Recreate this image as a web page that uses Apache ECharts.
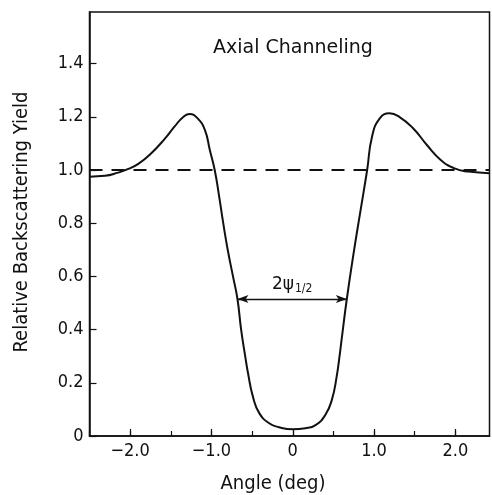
<!DOCTYPE html>
<html>
<head>
<meta charset="utf-8">
<script src="https://cdn.jsdelivr.net/npm/echarts@6/dist/echarts.min.js"></script>
<style>
  html, body { margin: 0; padding: 0; background: #fff; }
  #chart { width: 492px; height: 495px; }
</style>
</head>
<body>
<div id="chart"></div>
<script>
// Backscattering yield vs. tilt angle across an axial channel
const angle = [-2.5, -2.31, -2.15, -2.03, -1.9, -1.74, -1.57, -1.45, -1.35, -1.27, -1.17, -1.08, -1.02, -0.96, -0.905, -0.855, -0.80, -0.735, -0.68, -0.635, -0.585, -0.55, -0.49, -0.41, -0.29, -0.17, 0, 0.155, 0.28, 0.40, 0.48, 0.54, 0.58, 0.60, 0.665, 0.755, 0.835, 0.915, 0.975, 1.07, 1.19, 1.31, 1.48, 1.65, 1.82, 1.99, 2.16, 2.42];
const yieldValues = [0.975, 0.978, 0.99, 1.003, 1.023, 1.063, 1.119, 1.165, 1.198, 1.211, 1.194, 1.15, 1.075, 1.0, 0.9, 0.8, 0.7, 0.6, 0.515, 0.4, 0.3, 0.236, 0.148, 0.085, 0.048, 0.033, 0.025, 0.029, 0.041, 0.079, 0.135, 0.223, 0.311, 0.36, 0.515, 0.70, 0.85, 1.0, 1.125, 1.194, 1.213, 1.2, 1.157, 1.094, 1.038, 1.006, 0.994, 0.988];

// random (non-channeled) reference level
const randomLevel = 1.0;

// full width at half minimum: arrow between the two walls of the dip
const halfWidthLevel = 0.515;
const halfWidthFrom = -0.68;
const halfWidthTo = 0.665;

const xMajorTicks = [-2, -1, 0, 1, 2];
const xMinorTicks = [-2.5, -2, -1.5, -1, -0.5, 0, 0.5, 1, 1.5, 2];
const yTicks = [0, 0.2, 0.4, 0.6, 0.8, 1.0, 1.2, 1.4];

const xRange = [-2.5, 2.42];
const yRange = [0, 1.594];

const ink = '#111';
const condensed = '"DejaVu Sans Condensed", "DejaVu Sans", sans-serif';

const fmtX = v => v === 0 ? '0' : (v < 0 ? '\u2212' : '') + Math.abs(v).toFixed(1);
const fmtY = v => v === 0 ? '0' : v.toFixed(1);

const chart = echarts.init(document.getElementById('chart'), null, { renderer: 'canvas' });

chart.setOption({
  animation: false,
  backgroundColor: '#fff',
  grid: {
    left: 89.5, right: 2.5, top: 12, bottom: 59,
    show: true, borderColor: ink, borderWidth: 1.5, backgroundColor: 'transparent'
  },
  xAxis: [
    {
      type: 'value', min: xRange[0], max: xRange[1], interval: 0.5,
      axisLine: { show: true, onZero: false, lineStyle: { color: ink, width: 1.5 } },
      axisTick: { show: true, inside: true, length: 5, customValues: xMinorTicks, lineStyle: { color: ink, width: 1.2 } },
      axisLabel: {
        customValues: xMajorTicks, formatter: fmtX, margin: 6,
        color: ink, fontFamily: condensed, fontSize: 18
      },
      splitLine: { show: false }
    },
    {
      type: 'value', min: xRange[0], max: xRange[1], interval: 0.5, position: 'bottom',
      axisLine: { show: false, onZero: false },
      axisTick: { show: true, inside: true, length: 7, customValues: xMajorTicks, lineStyle: { color: ink, width: 1.2 } },
      axisLabel: { show: false },
      splitLine: { show: false }
    }
  ],
  yAxis: {
    type: 'value', min: yRange[0], max: yRange[1], interval: 0.2, position: 'left',
    axisLine: { show: true, onZero: false, lineStyle: { color: ink, width: 1.5 } },
    axisTick: { show: true, inside: true, length: 7, customValues: yTicks, lineStyle: { color: ink, width: 1.2 } },
    axisLabel: {
      customValues: yTicks, formatter: fmtY, margin: 6,
      color: ink, fontFamily: condensed, fontSize: 18
    },
    splitLine: { show: false }
  },
  graphic: [
    {
      type: 'text', x: 293, y: 48,
      style: { text: 'Axial Channeling', fill: ink, font: '19px "DejaVu Sans", sans-serif', textAlign: 'center', textVerticalAlign: 'middle' }
    },
    {
      type: 'text', x: 273, y: 484,
      style: { text: 'Angle (deg)', fill: ink, font: '20px ' + condensed, textAlign: 'center', textVerticalAlign: 'middle' }
    },
    {
      type: 'text', x: 22, y: 222, rotation: Math.PI / 2,
      style: { text: 'Relative Backscattering Yield', fill: ink, font: '20px ' + condensed, textAlign: 'center', textVerticalAlign: 'middle' }
    }
  ],
  series: [
    {
      type: 'line',
      data: angle.map((a, i) => [a, yieldValues[i]]),
      smooth: 0.5,
      showSymbol: false,
      lineStyle: { color: ink, width: 2 },
      z: 3
    },
    {
      type: 'line',
      data: [[xRange[0], randomLevel], [xRange[1], randomLevel]],
      showSymbol: false,
      lineStyle: { color: ink, width: 2, type: [13, 9] },
      z: 2,
      markLine: {
        silent: true,
        symbol: ['arrow', 'arrow'],
        symbolSize: [6, 11],
        lineStyle: { color: ink, width: 1.3, type: 'solid' },
        label: {
          show: true, position: 'middle', distance: 4,
          formatter: '{a|2\u03C8}{b|1/2}',
          rich: {
            a: { fontFamily: '"DejaVu Sans", sans-serif', fontSize: 17, color: ink, padding: [0, 1, 0, 0] },
            b: { fontFamily: condensed, fontSize: 12, color: ink, verticalAlign: 'bottom', padding: [8, 0, 0, 0] }
          }
        },
        data: [[
          { coord: [halfWidthFrom, halfWidthLevel] },
          { coord: [halfWidthTo, halfWidthLevel] }
        ]]
      }
    }
  ]
});
</script>
</body>
</html>
